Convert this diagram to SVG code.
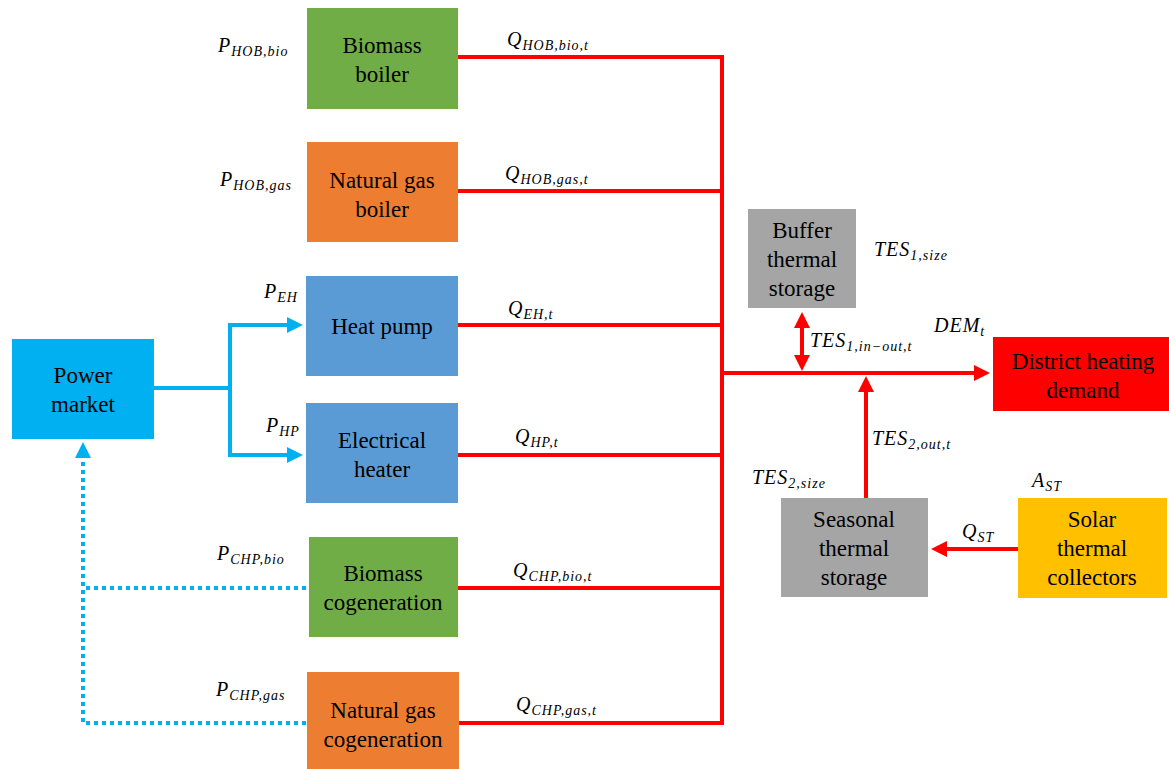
<svg xmlns="http://www.w3.org/2000/svg" width="1169" height="769" viewBox="0 0 1169 769">
<style>
.t{font-family:'Liberation Serif','Times New Roman',Tinos,'DejaVu Serif',serif;font-size:23px;fill:#000;text-anchor:middle}
.m{font-family:'Liberation Serif','Times New Roman',Tinos,'DejaVu Serif',serif;font-style:italic;font-size:20px;fill:#000;letter-spacing:1px}
.s{font-size:14px}
.red{stroke:#FF0000;stroke-width:4;fill:none}
.blue{stroke:#00B0F0;stroke-width:4;fill:none}
.dot{stroke:#00B0F0;stroke-width:4;fill:none;stroke-dasharray:4 4}
</style>
<defs>
<marker id="ar" markerWidth="4" markerHeight="4" refX="3" refY="2" orient="auto-start-reverse" markerUnits="strokeWidth"><path d="M0,0 L4,2 L0,4 z" fill="#FF0000"/></marker>
<marker id="ab" markerWidth="4" markerHeight="4" refX="3" refY="2" orient="auto" markerUnits="strokeWidth"><path d="M0,0 L4,2 L0,4 z" fill="#00B0F0"/></marker>
</defs>
<rect width="1169" height="769" fill="#fff"/>
<g id="connectors">
<path class="red" d="M458,57 H722 M458,191 H722 M458,325 H722 M458,455 H722 M458,588 H722 M458,723 H722 M722,55 V725"/>
<path class="red" d="M720,373 H986" marker-end="url(#ar)"/>
<path class="red" d="M802,316 V367" marker-start="url(#ar)" marker-end="url(#ar)"/>
<path class="red" d="M866,498 V380" marker-end="url(#ar)"/>
<path class="red" d="M1018,549 H935" marker-end="url(#ar)"/>
<path class="blue" d="M154,388 H230 M230,323 V457"/>
<path class="blue" d="M228,325 H299" marker-end="url(#ab)"/>
<path class="blue" d="M228,455 H299" marker-end="url(#ab)"/>
<path class="dot" d="M306,588 H83 M306,723 H83 V450"/>
<path class="blue" d="M83,454 V446" marker-end="url(#ab)"/>
</g>
<g id="biomass-boiler"><rect x="307" y="8" width="151" height="101" fill="#70AD47"/><text class="t" x="382" y="53">Biomass</text><text class="t" x="382" y="82">boiler</text></g>
<g id="gas-boiler"><rect x="307" y="142" width="151" height="100" fill="#ED7D31"/><text class="t" x="382" y="188">Natural gas</text><text class="t" x="382" y="217">boiler</text></g>
<g id="heat-pump"><rect x="306" y="276" width="152" height="100" fill="#5B9BD5"/><text class="t" x="382" y="334">Heat pump</text></g>
<g id="electrical-heater"><rect x="306" y="403" width="152" height="100" fill="#5B9BD5"/><text class="t" x="382" y="448">Electrical</text><text class="t" x="382" y="477">heater</text></g>
<g id="biomass-chp"><rect x="309" y="537" width="149" height="100" fill="#70AD47"/><text class="t" x="383" y="581">Biomass</text><text class="t" x="383" y="610">cogeneration</text></g>
<g id="gas-chp"><rect x="307" y="672" width="152" height="100" fill="#ED7D31"/><text class="t" x="383" y="718">Natural gas</text><text class="t" x="383" y="747">cogeneration</text></g>
<g id="power-market"><rect x="12" y="339" width="142" height="100" fill="#00B0F0"/><text class="t" x="83" y="383">Power</text><text class="t" x="83" y="412">market</text></g>
<g id="buffer-storage"><rect x="748" y="209" width="108" height="99" fill="#A5A5A5"/><text class="t" x="802" y="238">Buffer</text><text class="t" x="802" y="267">thermal</text><text class="t" x="802" y="296">storage</text></g>
<g id="district-heating"><rect x="993" y="337" width="176" height="74" fill="#FF0000"/><text class="t" x="1083" y="369">District heating</text><text class="t" x="1083" y="398">demand</text></g>
<g id="seasonal-storage"><rect x="781" y="498" width="147" height="99" fill="#A5A5A5"/><text class="t" x="854" y="527">Seasonal</text><text class="t" x="854" y="556">thermal</text><text class="t" x="854" y="585">storage</text></g>
<g id="solar-collectors"><rect x="1018" y="498" width="149" height="100" fill="#FFC000"/><text class="t" x="1092" y="527">Solar</text><text class="t" x="1092" y="556">thermal</text><text class="t" x="1092" y="585">collectors</text></g>
<g id="labels">
<text class="m" x="218" y="52">P<tspan class="s" dy="4">HOB,bio</tspan></text>
<text class="m" x="507" y="46">Q<tspan class="s" dy="4">HOB,bio,t</tspan></text>
<text class="m" x="220" y="186">P<tspan class="s" dy="4">HOB,gas</tspan></text>
<text class="m" x="505" y="180">Q<tspan class="s" dy="4">HOB,gas,t</tspan></text>
<text class="m" x="264" y="298">P<tspan class="s" dy="4">EH</tspan></text>
<text class="m" x="508" y="315">Q<tspan class="s" dy="4">EH,t</tspan></text>
<text class="m" x="266" y="432">P<tspan class="s" dy="4">HP</tspan></text>
<text class="m" x="515" y="443">Q<tspan class="s" dy="4">HP,t</tspan></text>
<text class="m" x="217" y="560">P<tspan class="s" dy="4">CHP,bio</tspan></text>
<text class="m" x="513" y="577">Q<tspan class="s" dy="4">CHP,bio,t</tspan></text>
<text class="m" x="216" y="696">P<tspan class="s" dy="4">CHP,gas</tspan></text>
<text class="m" x="516" y="711">Q<tspan class="s" dy="4">CHP,gas,t</tspan></text>
<text class="m" x="874" y="256">TES<tspan class="s" dy="4">1,size</tspan></text>
<text class="m" x="810" y="347">TES<tspan class="s" dy="4">1,in−out,t</tspan></text>
<text class="m" x="934" y="332">DEM<tspan class="s" dy="4">t</tspan></text>
<text class="m" x="872" y="445">TES<tspan class="s" dy="4">2,out,t</tspan></text>
<text class="m" x="752" y="484">TES<tspan class="s" dy="4">2,size</tspan></text>
<text class="m" x="1032" y="487">A<tspan class="s" dy="4">ST</tspan></text>
<text class="m" x="962" y="538">Q<tspan class="s" dy="4">ST</tspan></text>
</g>
</svg>
